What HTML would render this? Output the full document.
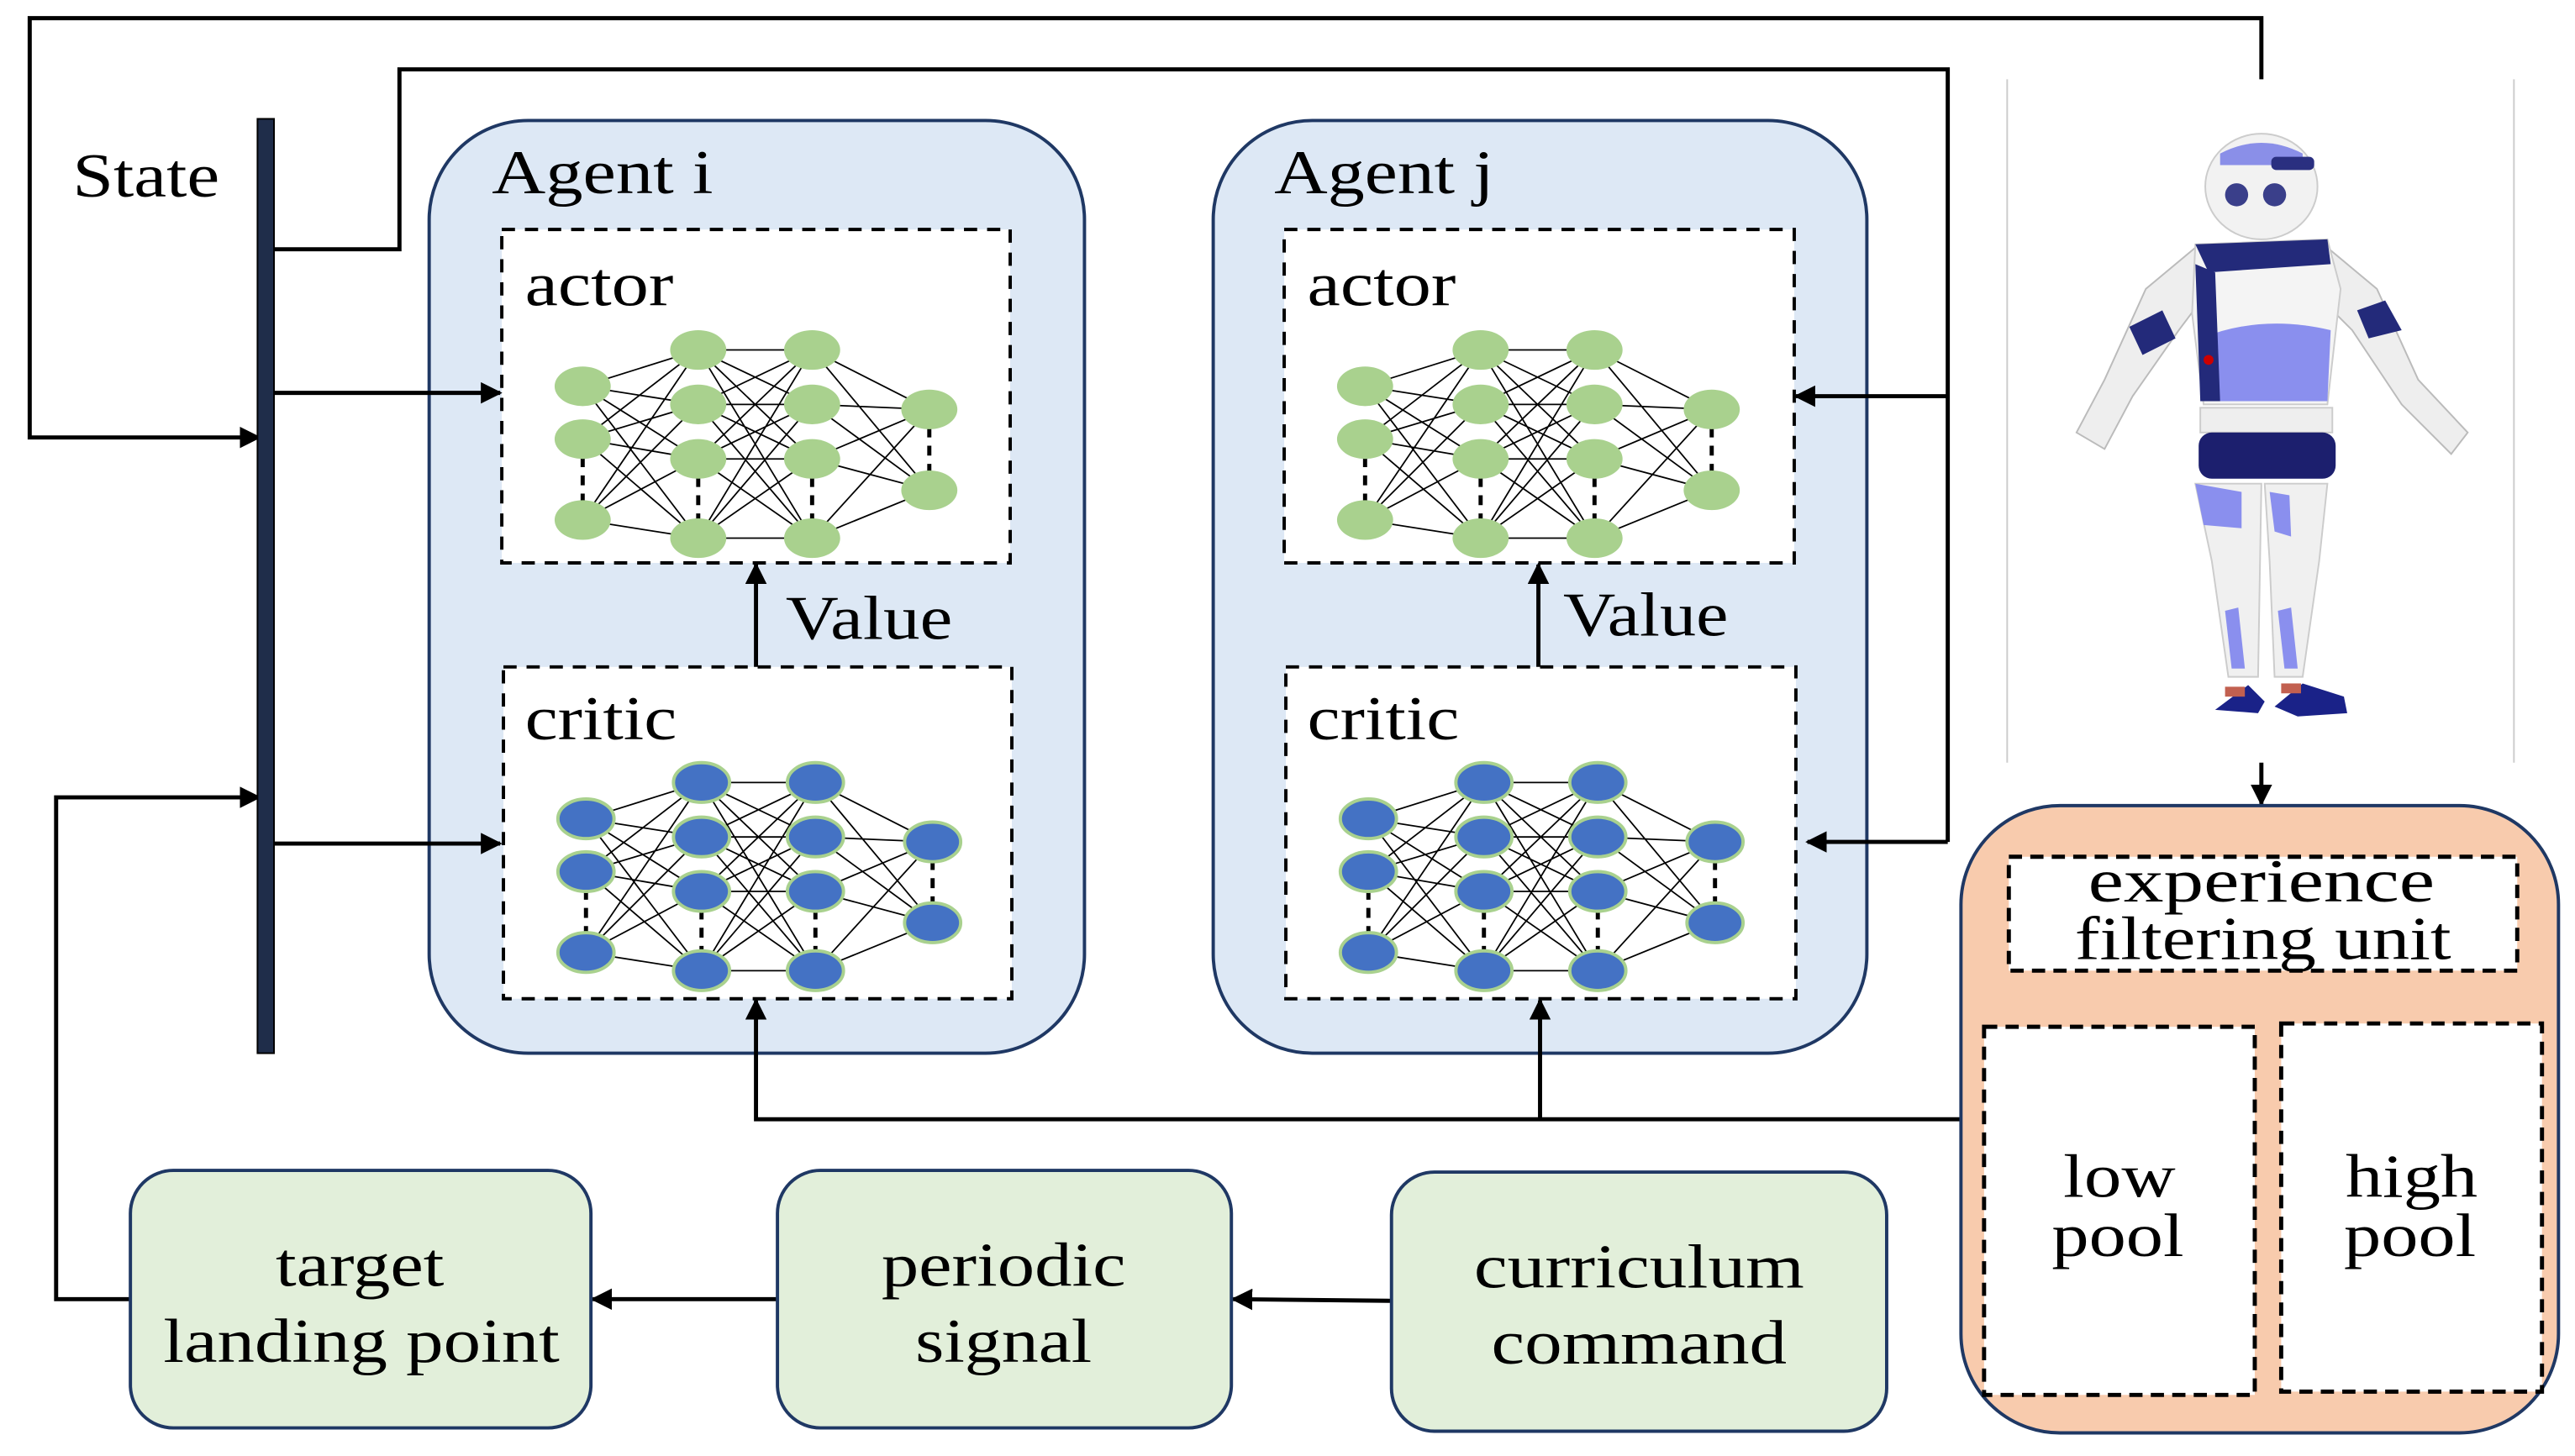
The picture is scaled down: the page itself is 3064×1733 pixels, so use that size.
<!DOCTYPE html>
<html><head><meta charset="utf-8"><style>
html,body{margin:0;padding:0;background:#fff;}
svg{display:block;}
</style></head><body>
<svg width="3064" height="1733" viewBox="0 0 1560 882" preserveAspectRatio="none" xmlns="http://www.w3.org/2000/svg" font-family="'Liberation Serif', 'Times New Roman', serif">
<defs>
<marker id="ah2" viewBox="0 0 10 10" refX="9" refY="5" markerWidth="13" markerHeight="13" orient="auto" markerUnits="userSpaceOnUse">
<path d="M0 0L10 5L0 10z" fill="#000"/></marker>
<g id="edges" stroke="#000" stroke-width="0.9" fill="none">
<path d="M353 234L423 212M353 234L423 245M353 234L423 278M353 234L423 326M353 266L423 212M353 266L423 245M353 266L423 278M353 266L423 326M353 315L423 212M353 315L423 245M353 315L423 278M353 315L423 326"/>
<path d="M423 212L492 212M423 212L492 245M423 212L492 278M423 212L492 326M423 245L492 212M423 245L492 245M423 245L492 278M423 245L492 326M423 278L492 212M423 278L492 245M423 278L492 278M423 278L492 326M423 326L492 212M423 326L492 245M423 326L492 278M423 326L492 326"/>
<path d="M492 212L563 248M492 212L563 297M492 245L563 248M492 245L563 297M492 278L563 248M492 278L563 297M492 326L563 248M492 326L563 297"/>
<path d="M353 266V315M423 278V326M492 278V326M563 248V297" stroke-width="2.5" stroke-dasharray="6,5"/>
</g>
<g id="nodes">
<ellipse cx="353" cy="234" rx="17" ry="12"/><ellipse cx="353" cy="266" rx="17" ry="12"/><ellipse cx="353" cy="315" rx="17" ry="12"/>
<ellipse cx="423" cy="212" rx="17" ry="12"/><ellipse cx="423" cy="245" rx="17" ry="12"/><ellipse cx="423" cy="278" rx="17" ry="12"/><ellipse cx="423" cy="326" rx="17" ry="12"/>
<ellipse cx="492" cy="212" rx="17" ry="12"/><ellipse cx="492" cy="245" rx="17" ry="12"/><ellipse cx="492" cy="278" rx="17" ry="12"/><ellipse cx="492" cy="326" rx="17" ry="12"/>
<ellipse cx="563" cy="248" rx="17" ry="12"/><ellipse cx="563" cy="297" rx="17" ry="12"/>
</g>
</defs>

<rect x="260" y="73" width="397" height="565" rx="60" fill="#dde8f5" stroke="#1f3864" stroke-width="2"/>
<rect x="735" y="73" width="396" height="565" rx="60" fill="#dde8f5" stroke="#1f3864" stroke-width="2"/>

<g fill="#fff" stroke="#000" stroke-width="2" stroke-dasharray="8,6">
<rect x="304" y="139" width="308" height="202"/>
<rect x="305" y="404" width="308" height="201"/>
<rect x="778" y="139" width="309" height="202"/>
<rect x="779" y="404" width="309" height="201"/>
</g>

<g fill="none" stroke="#000" stroke-width="2.5">
<path d="M1370 48V11H18V265H157" marker-end="url(#ah2)"/>
<path d="M165 151H242V42H1180V510"/>
<path d="M1180 240H1088" marker-end="url(#ah2)"/>
<path d="M1180 510H1095" marker-end="url(#ah2)"/>
<path d="M165 238H303" marker-end="url(#ah2)"/>
<path d="M165 511H303" marker-end="url(#ah2)"/>
<path d="M1190 678H458V606" marker-end="url(#ah2)"/>
<path d="M933 678V606" marker-end="url(#ah2)"/>
<path d="M843 788L747 787" marker-end="url(#ah2)"/>
<path d="M471 787H359" marker-end="url(#ah2)"/>
<path d="M79 787H34V483H157" marker-end="url(#ah2)"/>
<path d="M1370 462V487" marker-end="url(#ah2)"/>
<path d="M458 404V342" marker-end="url(#ah2)"/>
<path d="M932 404V342" marker-end="url(#ah2)"/>
</g>

<rect x="156" y="72" width="10" height="566" fill="#1f2d4a" stroke="#000" stroke-width="1"/>
<g font-size="38" lengthAdjust="spacingAndGlyphs">
<text x="44" y="119" textLength="89" lengthAdjust="spacingAndGlyphs">State</text>
<text x="298" y="117" textLength="134" lengthAdjust="spacingAndGlyphs">Agent i</text>
<text x="772" y="117" textLength="133" lengthAdjust="spacingAndGlyphs">Agent j</text>
<text x="318" y="185" textLength="90" lengthAdjust="spacingAndGlyphs">actor</text>
<text x="318" y="448" textLength="92" lengthAdjust="spacingAndGlyphs">critic</text>
<text x="792" y="185" textLength="90" lengthAdjust="spacingAndGlyphs">actor</text>
<text x="792" y="448" textLength="92" lengthAdjust="spacingAndGlyphs">critic</text>
<text x="476" y="387" textLength="101" lengthAdjust="spacingAndGlyphs">Value</text>
<text x="947" y="385" textLength="100" lengthAdjust="spacingAndGlyphs">Value</text>
</g>

<use href="#edges"/><use href="#nodes" fill="#a9d18e"/>
<use href="#edges" transform="translate(474,0)"/><use href="#nodes" fill="#a9d18e" transform="translate(474,0)"/>
<use href="#edges" transform="translate(2,262)"/><use href="#nodes" fill="#4472c4" stroke="#a9d18e" stroke-width="2" transform="translate(2,262)"/>
<use href="#edges" transform="translate(476,262)"/><use href="#nodes" fill="#4472c4" stroke="#a9d18e" stroke-width="2" transform="translate(476,262)"/>

<line x1="1216" y1="48" x2="1216" y2="462" stroke="#ccc" stroke-width="1"/>
<line x1="1523" y1="48" x2="1523" y2="462" stroke="#ccc" stroke-width="1"/>
<g>
<path d="M1330 150L1300 175L1275 230L1258 262L1275 272L1292 240L1320 200L1335 180z" fill="#eee" stroke="#bbb"/>
<path d="M1410 150L1440 175L1465 230L1495 262L1485 275L1455 245L1425 200L1405 180z" fill="#eee" stroke="#bbb"/>
<path d="M1290 198L1310 188L1318 205L1298 215z" fill="#232a7a"/>
<path d="M1428 188L1445 182L1455 200L1435 205z" fill="#232a7a"/>
<ellipse cx="1370" cy="113" rx="34" ry="32" fill="#f2f2f2" stroke="#ccc"/>
<path d="M1345 93Q1370 80 1395 93L1395 100L1345 100z" fill="#8a8fe8"/>
<rect x="1376" y="95" width="26" height="8" rx="3" fill="#2a2f80"/>
<circle cx="1355" cy="118" r="7" fill="#3a3f8a"/><circle cx="1378" cy="118" r="7" fill="#3a3f8a"/>
<path d="M1330 148L1410 145L1418 175L1410 245L1335 245L1328 190z" fill="#f4f4f4" stroke="#ccc"/>
<path d="M1330 148L1410 145L1412 160L1338 165z" fill="#232a7a"/>
<path d="M1333 205Q1370 190 1412 200L1410 243L1335 243z" fill="#8a8fee"/>
<path d="M1330 160L1342 165L1345 243L1333 243z" fill="#232a7a"/>
<circle cx="1338" cy="218" r="3" fill="#c00"/>
<rect x="1333" y="247" width="80" height="15" fill="#eee" stroke="#ccc"/>
<rect x="1332" y="262" width="83" height="28" rx="8" fill="#1c1f6e"/>
<path d="M1330 293L1370 293L1368 410L1350 410L1340 340z" fill="#f0f0f0" stroke="#ccc"/>
<path d="M1372 293L1410 293L1405 340L1395 410L1378 410L1375 340z" fill="#f0f0f0" stroke="#ccc"/>
<path d="M1330 293L1358 298L1358 320L1335 318z" fill="#8a8fee"/>
<path d="M1348 370L1356 368L1360 405L1352 405z" fill="#8a8fee"/>
<path d="M1380 370L1388 368L1392 405L1384 405z" fill="#8a8fee"/>
<path d="M1375 298L1387 300L1388 325L1378 322z" fill="#8a8fee"/>
<path d="M1342 430L1362 415L1372 425L1368 432z" fill="#1a2288"/>
<path d="M1378 428L1395 414L1420 422L1422 432L1392 434z" fill="#1a2288"/>
<rect x="1348" y="416" width="12" height="6" fill="#c26050"/>
<rect x="1382" y="414" width="12" height="6" fill="#c26050"/>
</g>

<rect x="1188" y="488" width="362" height="380" rx="60" fill="#f8cbad" stroke="#1f3864" stroke-width="2"/>
<g fill="#fff" stroke="#000" stroke-width="2.5" stroke-dasharray="8,5">
<rect x="1217" y="519" width="308" height="69"/>
<rect x="1202" y="622" width="164" height="223"/>
<rect x="1382" y="620" width="158" height="223"/>
</g>
<g font-size="37" text-anchor="middle">
<text x="1370" y="546" textLength="210" lengthAdjust="spacingAndGlyphs">experience</text>
<text x="1371" y="581" textLength="228" lengthAdjust="spacingAndGlyphs">filtering unit</text>
<text x="1284" y="725" textLength="68" lengthAdjust="spacingAndGlyphs">low</text>
<text x="1283" y="761" textLength="80" lengthAdjust="spacingAndGlyphs">pool</text>
<text x="1461" y="725" textLength="80" lengthAdjust="spacingAndGlyphs">high</text>
<text x="1460" y="761" textLength="80" lengthAdjust="spacingAndGlyphs">pool</text>
</g>

<g fill="#e2efda" stroke="#1f3864" stroke-width="2">
<rect x="79" y="709" width="279" height="156" rx="26"/>
<rect x="471" y="709" width="275" height="156" rx="26"/>
<rect x="843" y="710" width="300" height="157" rx="26"/>
</g>
<g font-size="38" text-anchor="middle">
<text x="218" y="779" textLength="102" lengthAdjust="spacingAndGlyphs">target</text>
<text x="219" y="825" textLength="240" lengthAdjust="spacingAndGlyphs">landing point</text>
<text x="608" y="779" textLength="148" lengthAdjust="spacingAndGlyphs">periodic</text>
<text x="608" y="825" textLength="107" lengthAdjust="spacingAndGlyphs">signal</text>
<text x="993" y="780" textLength="200" lengthAdjust="spacingAndGlyphs">curriculum</text>
<text x="993" y="826" textLength="179" lengthAdjust="spacingAndGlyphs">command</text>
</g>
</svg>
</body></html>
